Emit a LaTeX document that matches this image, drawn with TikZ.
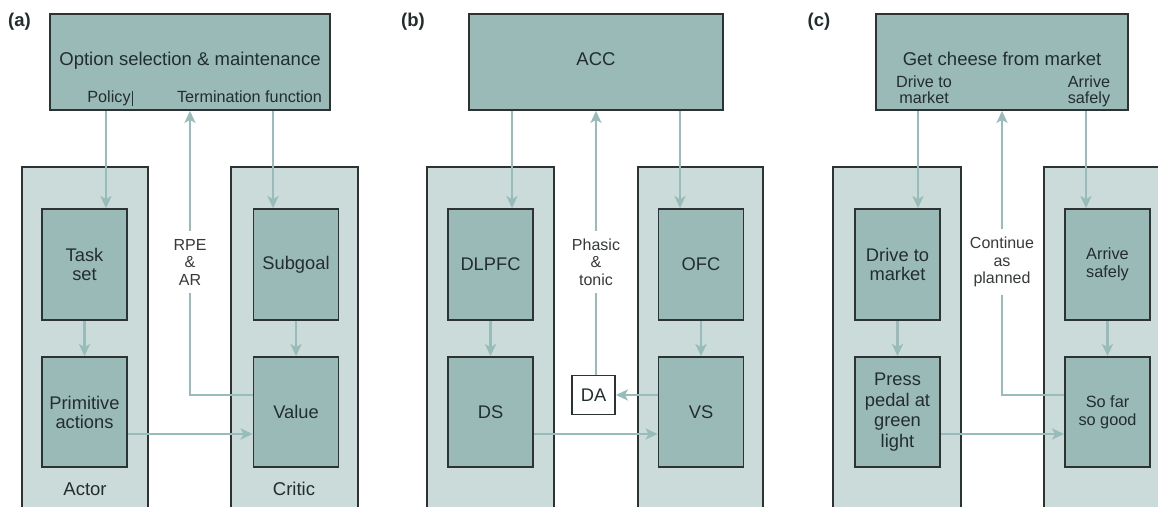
\documentclass[tikz,border=0pt]{standalone}
\usepackage{fontspec}
\setmainfont{Liberation Sans}
\usetikzlibrary{arrows.meta,calc}
\definecolor{dk}{RGB}{154,186,184}
\definecolor{lt}{RGB}{202,219,217}
\definecolor{ar}{RGB}{152,188,185}
\definecolor{bd}{RGB}{45,50,50}
\definecolor{tx}{RGB}{35,45,45}
\definecolor{gtx}{RGB}{55,58,58}
\begin{document}
\begin{tikzpicture}[x=1pt,y=-1pt,
  topbox/.style={draw=bd,line width=1.8pt,fill=dk,minimum width=#1,minimum height=96,inner sep=0pt},
  colbox/.style={draw=bd,line width=1.8pt,fill=lt,minimum width=126,minimum height=360,inner sep=0pt},
  inbox/.style={draw=bd,line width=1.8pt,fill=dk,minimum width=85,minimum height=111,inner sep=0pt,align=center,text=tx,font=\fontsize{18.3}{19}\selectfont},
  inboxs/.style={inbox,font=\fontsize{16.3}{18}\selectfont},
  ttl/.style={inner sep=0pt,anchor=base,text=tx,font=\fontsize{18.5}{20}\selectfont},
  sub/.style={inner sep=0pt,anchor=base,text=tx,font=\fontsize{16.2}{18}\selectfont},
  collab/.style={inner sep=0pt,anchor=base,text=tx,font=\fontsize{18.5}{20}\selectfont},
  midlab/.style={fill=white,inner xsep=2pt,inner ysep=8pt,align=center,text=gtx,font=\fontsize{16}{17.5}\selectfont},
  plab/.style={inner sep=0pt,font=\bfseries\fontsize{18.5}{20}\selectfont,text=tx},
  arr/.style={draw=ar,line width=2.2pt,-{Stealth[length=12pt,width=11pt,inset=3pt]}},
  ln/.style={draw=ar,line width=2.2pt}
]
\clip (0,0) rectangle (1158,506);
\fill[white] (0,0) rectangle (1158,506);
\coordinate (r1) at (0,434);
\coordinate (r2) at (0,395);

% ---------------- panel (a)
\node[plab] (la) at (19.5,22) {(a)};
\node[colbox] (actor) at (85,347) {};
\node[colbox,minimum width=127] (critic) at (294.5,347) {};
\node[topbox=280] (topA) at (190,62) {};
\node[ttl] (ttlA) at (190,65) {Option selection \& maintenance};
\node[sub] (polA) at (109,102) {Policy};
\node[sub] (termA) at (249.5,102) {Termination function};
\coordinate (curA1) at (132,91);
\coordinate (curA2) at (132,106);
\draw[bd,line width=0.8pt] (curA1) -- (curA2);
\node[inbox] (task) at (84.5,264.5) {Task\\set};
\node[inbox,minimum height=110] (prim) at (84.5,412) {Primitive\\actions};
\node[inbox] (subg) at (296,264.5) {Subgoal};
\node[inbox,minimum height=110] (value) at (296,412) {Value};
\node[collab] (actlab) at (85,495) {Actor};
\node[collab] (critlab) at (294,495) {Critic};
\coordinate (xa1) at (106,0);
\coordinate (xa2) at (190,0);
\coordinate (xa3) at (273,0);
\draw[arr] (xa1 |- topA.south) -- (xa1 |- task.north);
\draw[arr] (xa3 |- topA.south) -- (xa3 |- subg.north);
\draw[arr] (task.south) -- (prim.north);
\draw[arr] (subg.south) -- (value.north);
\draw[arr] (prim.east |- r1) -- (value.west |- r1);
\draw[arr] (value.west |- r2) -- (xa2 |- r2) -- (xa2 |- topA.south);
\node[midlab] (rpe) at (190,262) {RPE\\\&\\AR};

% ---------------- panel (b)
\node[plab] (lb) at (413,22) {(b)};
\node[colbox,minimum width=127] (colB1) at (490.5,347) {};
\node[colbox,minimum width=125] (colB2) at (700.5,347) {};
\node[topbox=254] (topB) at (596,62) {};
\node[ttl] (ttlB) at (596,65) {ACC};
\node[inbox] (dlpfc) at (490.5,264.5) {DLPFC};
\node[inbox,minimum height=110] (ds) at (490.5,412) {DS};
\node[inbox,minimum height=110] (vs) at (701,412) {VS};
\node[inbox] (ofc) at (701,264.5) {OFC};
\node[draw=bd,line width=1.8pt,fill=white,minimum width=43,minimum height=39,inner sep=0pt,text=tx,font=\fontsize{18.3}{20}\selectfont] (da) at (593.5,395) {DA};
\coordinate (xb1) at (512,0);
\coordinate (xb2) at (596,0);
\coordinate (xb3) at (680,0);
\draw[arr] (xb1 |- topB.south) -- (xb1 |- dlpfc.north);
\draw[arr] (xb3 |- topB.south) -- (xb3 |- ofc.north);
\draw[arr] (dlpfc.south) -- (ds.north);
\draw[arr] (ofc.south) -- (vs.north);
\draw[arr] (ds.east |- r1) -- (vs.west |- r1);
\draw[arr] (vs.west |- r2) -- (da.east |- r2);
\draw[arr] (xb2 |- da.north) -- (xb2 |- topB.south);
\node[midlab] (phas) at (596,262) {Phasic\\\&\\tonic};

% ---------------- panel (c)
\node[plab] (lc) at (819,22) {(c)};
\node[colbox,minimum width=128] (colC1) at (897,347) {};
\node[colbox,minimum width=127] (colC2) at (1107.5,347) {};
\node[topbox=252] (topC) at (1002,62) {};
\node[ttl] (ttlC) at (1002,65) {Get cheese from market};
\node[sub] (dtm1) at (924,87) {Drive to};
\node[sub] (dtm2) at (924,103.5) {market};
\node[sub] (ars1) at (1089,87) {Arrive};
\node[sub] (ars2) at (1089,103.5) {safely};
\node[inbox] (drive) at (897.5,264.5) {Drive to\\market};
\node[inbox,minimum height=110,font=\fontsize{18.3}{20.5}\selectfont] (press) at (897.5,412) {Press\\pedal at\\green\\light};
\node[inboxs] (arrive) at (1107.5,264.5) {Arrive\\safely};
\node[inboxs,minimum height=110] (sofar) at (1107.5,412) {So far\\so good};
\coordinate (xc1) at (918,0);
\coordinate (xc2) at (1002,0);
\coordinate (xc3) at (1086,0);
\draw[arr] (xc1 |- topC.south) -- (xc1 |- drive.north);
\draw[arr] (xc3 |- topC.south) -- (xc3 |- arrive.north);
\draw[arr] (drive.south) -- (press.north);
\draw[arr] (arrive.south) -- (sofar.north);
\draw[arr] (press.east |- r1) -- (sofar.west |- r1);
\draw[arr] (sofar.west |- r2) -- (xc2 |- r2) -- (xc2 |- topC.south);
\node[midlab] (cont) at (1002,262) {Continue\\as\\planned};
\end{tikzpicture}
\end{document}
